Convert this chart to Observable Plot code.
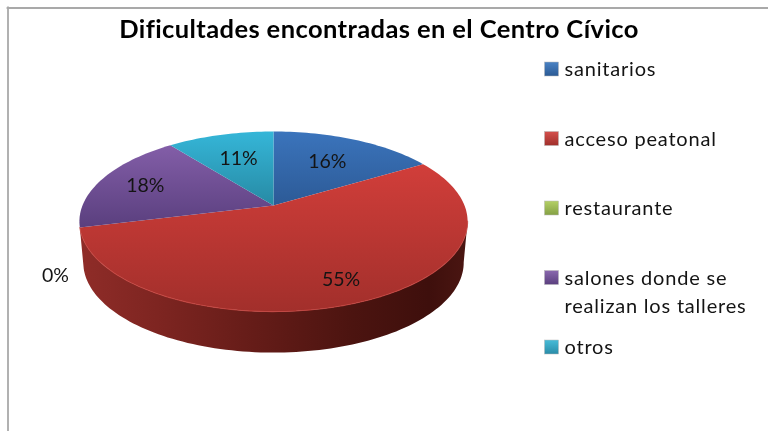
<!DOCTYPE html>
<html>
<head>
<meta charset="utf-8">
<script src="https://cdn.jsdelivr.net/npm/d3@7"></script>
<script src="https://cdn.jsdelivr.net/npm/@observablehq/plot@0.6"></script>
<style>
html,body{margin:0;padding:0;background:#fff}
svg{display:block;filter:blur(0.35px)}
g[font-size="20"]{letter-spacing:0.8px}
g[font-size="25.5"]{letter-spacing:0.4px}
</style>
</head>
<body>
<div id="chart"></div>
<script>
// Data
const titleText = "Dificultades encontradas en el Centro Cívico";
const categories = ["sanitarios", "acceso peatonal", "restaurante", "salones donde se\nrealizan los talleres", "otros"];
const percents = [16.4, 55, 0, 18.4, 10.6];

// Styles
const topStops = [["#3b74bc", "#2c5a96"], ["#d13e3a", "#a22f2b"], ["#a5c75c", "#86a346"], ["#835ea8", "#5a3f7e"], ["#35b6d8", "#278aa4"]];
const swatchStops = [["#4a82c4", "#2b5a94"], ["#d4504c", "#a02f2b"], ["#b4d066", "#84a044"], ["#8a68ae", "#5a3f7e"], ["#48bcd8", "#2a8ca8"]];
const sideStops = [[0, "#8f2c28"], [0.2, "#7e2521"], [0.45, "#651c18"], [0.7, "#4c1410"], [0.9, "#3e0f0c"], [1, "#4b1612"]];

// Layout of the perspective disc (in pixels of the identity scales)
const cx = 273, cy = 205, persp = 0.178, rx = 191, ry = 87.2, depth = 41, bottomShrink = 0.98;
const rad = Math.PI / 180;
function disc(angle, r = 1) {
  const u = r * Math.sin(angle * rad), v = -r * Math.cos(angle * rad), w = 1 - persp * v;
  return {x: cx + rx * u / w, y: cy + ry * v / w};
}
const lower = p => ({x: cx + (p.x - cx) * bottomShrink, y: p.y + depth});
function arcPts(a0, a1) {
  const n = Math.max(2, Math.ceil(Math.abs(a1 - a0) / 1.5));
  return d3.range(n + 1).map(i => disc(a0 + (a1 - a0) * i / n));
}

// Slices from the values
const total = d3.sum(percents);
let acc = 0;
const slices = percents.map((p, i) => {
  const a0 = acc / total * 360; acc += p;
  return {i, p, a0, a1: acc / total * 360, mid: (a0 + acc / total * 360) / 2};
});
const labelRadius = [0.63, 0.8, 1.12, 0.74, 0.62];
const labelRows = slices.map(s => {
  const q = disc(s.mid, labelRadius[s.i]);
  return {x: q.x, y: s.p === 0 ? q.y + depth * 1.12 : q.y, text: Math.round(s.p) + "%"};
});

const red = slices[1];
const rightmost = 100;
const sideTop = arcPts(rightmost, red.a1);
const sidePoly = [...sideTop, ...sideTop.slice().reverse().map(lower)];
const frontRim = arcPts(rightmost, red.a1);

const legendRows = categories.map((c, i) => ({c, i, y: 69 + i * 69.5}));
const swatchHalf = 7, legendX = 551.5, legendTextX = 564;

function defs() {
  const d = d3.create("svg:defs");
  const add = (id, a, b, x1, y1, x2, y2) => {
    const g = d.append("linearGradient").attr("id", id).attr("gradientUnits", "userSpaceOnUse")
      .attr("x1", x1).attr("y1", y1).attr("x2", x2).attr("y2", y2);
    g.append("stop").attr("offset", 0).attr("stop-color", a);
    g.append("stop").attr("offset", 1).attr("stop-color", b);
  };
  slices.forEach(s => {
    const pts = [disc(s.a0), disc(s.a1), ...arcPts(s.a0, s.a1), {y: cy}];
    add("top" + s.i, ...topStops[s.i], 0, d3.min(pts, p => p.y), 0, d3.max(pts, p => p.y));
  });
  legendRows.forEach(r => add("sw" + r.i, ...swatchStops[r.i], 0, r.y - swatchHalf, 0, r.y + swatchHalf));
  const sg = d.append("linearGradient").attr("id", "side").attr("gradientUnits", "userSpaceOnUse")
    .attr("x1", cx - 194).attr("y1", 0).attr("x2", cx + 194).attr("y2", 0);
  sideStops.forEach(([o, c]) => sg.append("stop").attr("offset", o).attr("stop-color", c));
  return d.node();
}

const font = "Lato, 'Noto Sans', sans-serif";
const marks = [
  defs,
  Plot.frame({anchor: "top", stroke: "#a9a9a9", strokeWidth: 1.8, insetTop: 7.5, insetLeft: 7}),
  Plot.frame({anchor: "left", stroke: "#a9a9a9", strokeWidth: 1.8, insetLeft: 7.5, insetTop: 7}),
  Plot.line(sidePoly, {x: "x", y: "y", fill: "url(#side)", stroke: "none"}),
  ...slices.filter(s => s.p > 0).map(s =>
    Plot.line([{x: cx, y: cy}, ...arcPts(s.a0, s.a1), {x: cx, y: cy}], {x: "x", y: "y", fill: `url(#top${s.i})`, stroke: "none"})
  ),
  Plot.line(frontRim, {x: "x", y: "y", stroke: "#c6443e", strokeWidth: 1.1, strokeOpacity: 0.8}),
  Plot.text(labelRows, {x: "x", y: "y", text: "text", fontSize: 19.5, fontFamily: font, fill: "#141414"}),
  Plot.text([titleText], {x: () => 378.5, y: () => 29, text: d => d, fontSize: 25.5, fontWeight: 700, fontFamily: font, fill: "#000"}),
  Plot.rect(legendRows, {
    x1: () => legendX - swatchHalf, x2: () => legendX + swatchHalf,
    y1: d => d.y - swatchHalf, y2: d => d.y + swatchHalf,
    fill: d => `url(#sw${d.i})`, stroke: "#b8b8b8", strokeWidth: 0.5
  }),
  Plot.text(legendRows, {
    x: () => legendTextX, y: "y", text: "c", textAnchor: "start", lineAnchor: "top", dy: -13,
    lineHeight: 1.4, fontSize: 20, fontFamily: font, fill: "#141414"
  })
];

const chart = Plot.plot({
  width: 768, height: 431, margin: 0,
  x: {domain: [0, 768], range: [0, 768], axis: null},
  y: {domain: [0, 431], range: [0, 431], axis: null},
  color: {type: "identity"},
  style: {background: "#fff"},
  marks
});
document.getElementById("chart").append(chart);
</script>
</body>
</html>
